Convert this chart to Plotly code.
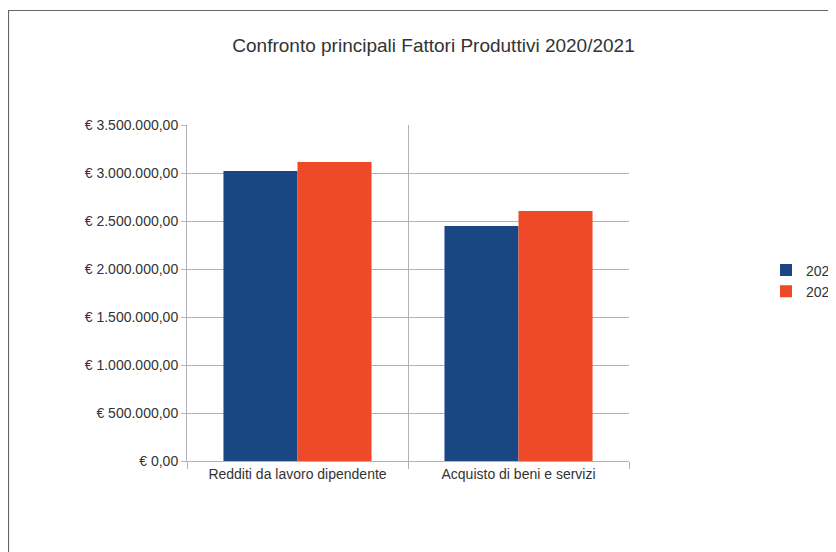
import plotly.graph_objects as go

categories = ["Redditi da lavoro dipendente", "Acquisto di beni e servizi"]
series_names = ["2020", "2021"]
values_2020 = [3020000, 2448000]
values_2021 = [3115000, 2604000]
colors = ["#1a4784", "#ef4a27"]

OFF = 8  # page body margin
W, H = 900, 620
L, T, R, B = 187 - OFF, 125 - OFF, 629 - OFF, 461 - OFF

fig = go.Figure()
for name, vals, col in zip(series_names, [values_2020, values_2021], colors):
    fig.add_trace(go.Bar(name=name, x=categories, y=vals, marker=dict(color=col, line=dict(width=0))))

pw, ph = R - L, B - T
fig.update_layout(
    width=W, height=H,
    margin=dict(l=L, r=W - R, t=T, b=H - B, pad=0),
    paper_bgcolor="white", plot_bgcolor="white",
    font=dict(family="Liberation Sans, Arial, sans-serif", size=14, color="#333333"),
    separators=",.",
    barmode="group", bargap=0.33, bargroupgap=0,
    title=dict(text="Confronto principali Fattori Produttivi 2020/2021",
               x=(433.5 - OFF) / W, xref="container", xanchor="center",
               y=1 - (45 - OFF) / H, yref="container", yanchor="middle",
               font=dict(size=19, color="#333333")),
    showlegend=True,
    legend=dict(x=(766 - OFF - L) / pw, y=(B - (281 - OFF)) / ph, xanchor="left", yanchor="middle",
                font=dict(size=14), bgcolor="rgba(0,0,0,0)", tracegroupgap=0),
    xaxis=dict(type="category", tickson="boundaries", showgrid=True, gridcolor="#b3b3b3",
               ticks="outside", ticklen=7, tickcolor="#b3b3b3", showline=True, linecolor="#b3b3b3",
               zeroline=False, tickfont=dict(size=14)),
    yaxis=dict(range=[0, 3500000], dtick=500000, tickprefix="€ ", tickformat=",.2f",
               showgrid=True, gridcolor="#b3b3b3", ticks="outside", ticklen=5, tickcolor="#b3b3b3",
               showline=True, linecolor="#b3b3b3", zeroline=False, tickfont=dict(size=14)),
    shapes=[dict(type="rect", xref="paper", yref="paper",
                 x0=(0.5 - L) / pw, x1=(W + 50 - L) / pw,
                 y0=(B - (H + 50)) / ph, y1=(B - 2.5) / ph,
                 line=dict(color="#666666", width=1.2), fillcolor="rgba(0,0,0,0)", layer="below")],
)

fig.write_html("out.html")
